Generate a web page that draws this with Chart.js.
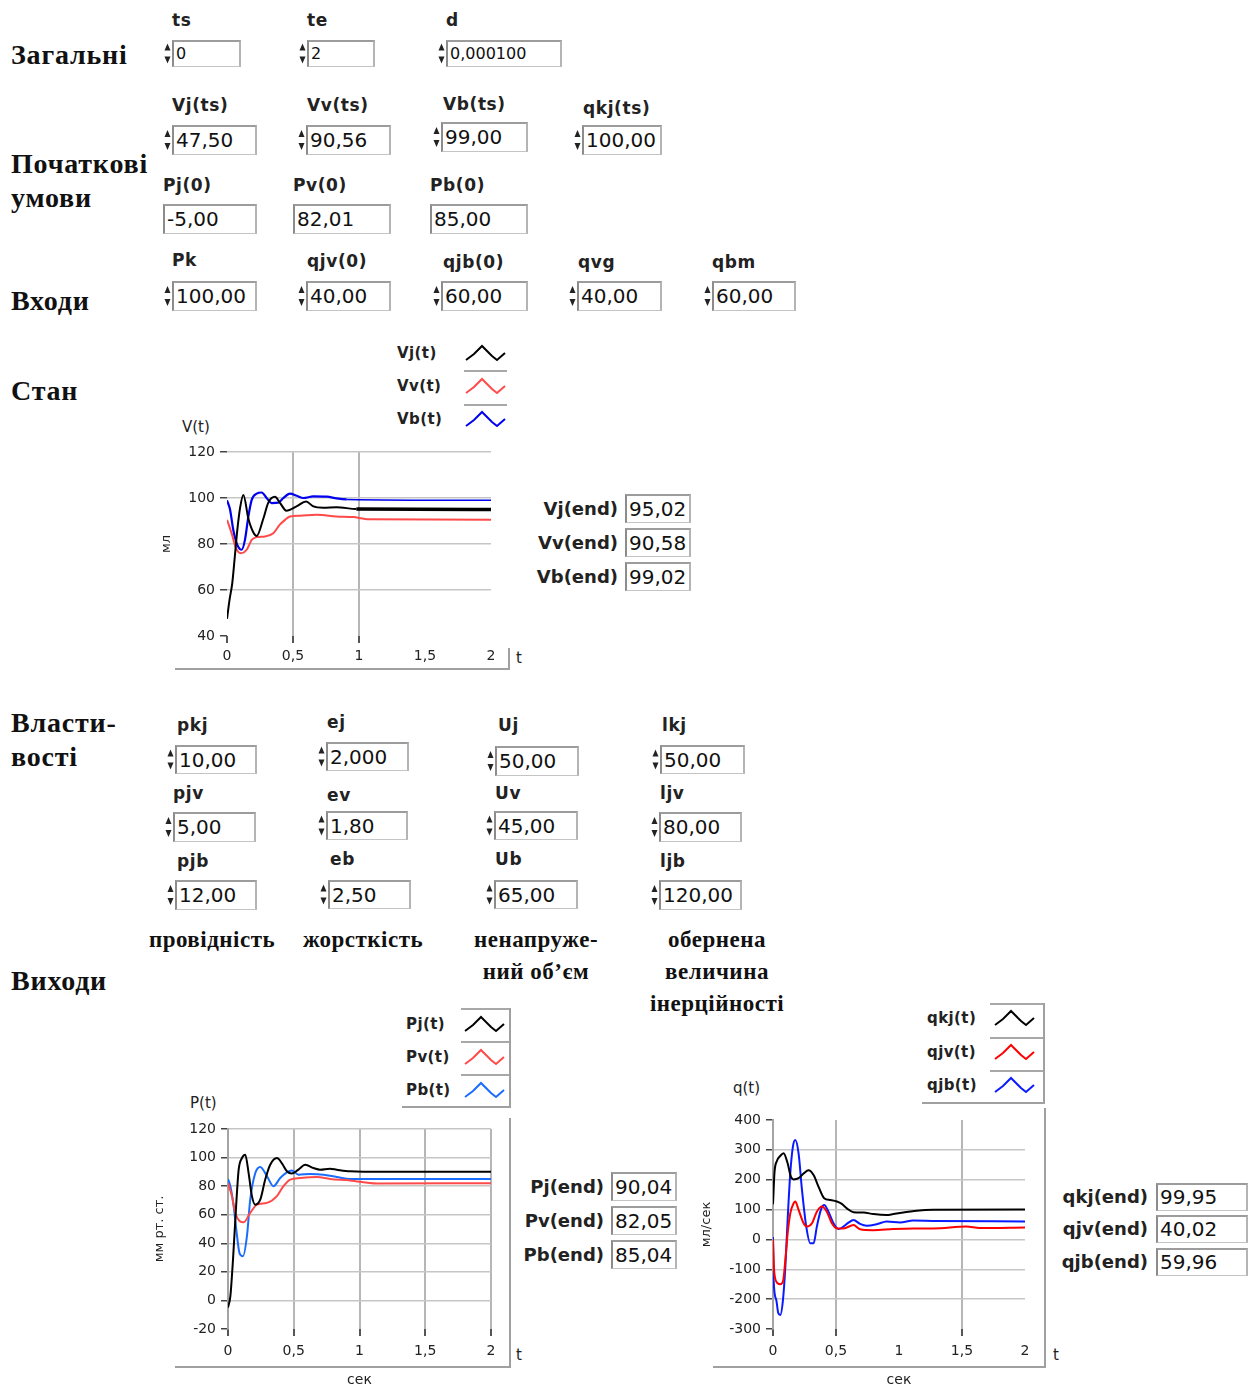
<!DOCTYPE html>
<html lang="uk">
<head>
<meta charset="utf-8">
<title>Модель кровообігу</title>
<script src="https://cdn.jsdelivr.net/npm/chart.js@4.4.1/dist/chart.umd.min.js"></script>
<style>
html,body{margin:0;padding:0;background:#fff;}
body{position:relative;width:1250px;height:1389px;overflow:hidden;}
.a{position:absolute;white-space:nowrap;}
.sec{font:bold 28px/28px "Liberation Serif","Times New Roman",serif;color:#111;letter-spacing:0.8px;}
.note{font:bold 23px/23px "Liberation Serif","Times New Roman",serif;color:#111;letter-spacing:0.5px;transform:translateX(-50%);}
.lab{font:bold 17px/20px "DejaVu Sans",sans-serif;color:#222;letter-spacing:0.6px;}
.box{position:absolute;box-sizing:border-box;background:#fff;border-top:2px solid #9c9c9c;border-left:2px solid #8c8c8c;border-right:2px solid #b4b4b4;border-bottom:1px solid #c4c4c4;font:20px "DejaVu Sans",sans-serif;color:#111;padding-left:2px;overflow:hidden;white-space:nowrap;}
.box.small{font-size:16px;}
.leg{font:bold 15px/20px "DejaVu Sans",sans-serif;color:#222;letter-spacing:0.4px;}
.ind{font:bold 18px/20px "DejaVu Sans",sans-serif;color:#222;text-align:right;width:200px;}
.cap{font:15px/18px "DejaVu Sans",sans-serif;color:#222;}
.ln{position:absolute;background:#a0a0a0;}
canvas{position:absolute;}
</style>
</head>
<body>
<script>
// ---------- V(t): volumes, мл ----------
const vjT = [0, 0.02, 0.04, 0.06, 0.078, 0.1, 0.124, 0.162, 0.2, 0.225, 0.275, 0.313, 0.364, 0.40, 0.45, 0.53, 0.60, 0.65, 0.73, 0.83, 0.98, 2];
const vjV = [47.5, 56, 63, 75, 86, 96, 101.3, 91, 85, 83.5, 91, 98, 100.5, 98, 94.5, 96.5, 98.5, 96.5, 95.8, 96, 95.2, 95.02];
const vvT = [0, 0.035, 0.068, 0.104, 0.149, 0.187, 0.225, 0.288, 0.351, 0.40, 0.44, 0.477, 0.553, 0.68, 0.83, 0.957, 1.06, 2];
const vvV = [90.56, 84.7, 78.2, 76, 77.5, 81.8, 83, 83.3, 84.7, 88.4, 90.5, 92, 92.3, 92.7, 92, 91.7, 90.8, 90.58];
const vbT = [0, 0.023, 0.048, 0.078, 0.111, 0.136, 0.162, 0.187, 0.225, 0.263, 0.30, 0.338, 0.389, 0.427, 0.477, 0.528, 0.578, 0.654, 0.755, 0.831, 0.907, 2];
const vbV = [99, 95, 86, 79.6, 77.5, 81.8, 92, 99.2, 101.9, 102.4, 100, 97.8, 98, 100, 101.9, 101, 100, 100.7, 100.6, 99.8, 99.4, 99.02];

// ---------- P(t): pressures, мм рт. ст. ----------
const pjT = [0, 0.018, 0.038, 0.063, 0.081, 0.106, 0.131, 0.157, 0.182, 0.207, 0.245, 0.283, 0.321, 0.372, 0.41, 0.448, 0.485, 0.536, 0.587, 0.65, 0.70, 0.776, 0.827, 0.928, 1.18, 2];
const pjV = [-5, 3, 28.6, 68, 91.5, 99.7, 102, 89, 73, 67, 70.5, 84.6, 95, 99.7, 96, 90.4, 88.8, 91.6, 95, 92.7, 91.5, 92.2, 91.5, 90.4, 90, 90.04];
const pvT = [0, 0.03, 0.056, 0.119, 0.169, 0.22, 0.296, 0.372, 0.422, 0.473, 0.549, 0.675, 0.776, 0.928, 1.13, 2];
const pvV = [82.01, 73, 61, 54.7, 61.3, 67, 68.3, 73, 80, 84.6, 85.7, 86.4, 85, 84, 81.8, 82.05];
const pbT = [0, 0.018, 0.043, 0.063, 0.088, 0.114, 0.144, 0.169, 0.207, 0.245, 0.296, 0.346, 0.397, 0.448, 0.485, 0.536, 0.625, 0.726, 0.827, 0.928, 2];
const pbV = [85, 80, 66, 49.6, 33, 31, 45, 70.5, 89, 93.4, 87, 80, 85.7, 89.7, 91, 88, 88.5, 88, 86.4, 85, 85.04];

// ---------- q(t): flows, мл/сек ----------
const qkjT = [0, 0.012, 0.03, 0.058, 0.084, 0.116, 0.142, 0.164, 0.203, 0.243, 0.282, 0.322, 0.361, 0.406, 0.454, 0.507, 0.546, 0.586, 0.639, 0.718, 0.797, 0.902, 0.955, 1.034, 1.14, 1.272, 2];
const qkjV = [118, 225, 262, 280, 289, 255, 210, 201, 205, 221, 232, 216, 177, 138, 132, 127, 119, 104, 91, 90, 85, 82, 85, 90, 96, 99, 99.95];
const qjvT = [0, 0.01, 0.037, 0.058, 0.079, 0.098, 0.116, 0.137, 0.164, 0.177, 0.203, 0.243, 0.269, 0.309, 0.348, 0.388, 0.427, 0.467, 0.507, 0.559, 0.639, 0.691, 0.797, 0.955, 1.113, 1.272, 1.536, 1.64, 2];
const qjvV = [0, -110, -147, -150, -141, -69, 19, 87, 121, 127, 99, 54, 43, 54, 93, 110, 93, 54, 37, 37, 48, 34, 31, 35, 37, 37, 43, 38, 40.02];
const qjbT = [0, 0.005, 0.026, 0.042, 0.058, 0.079, 0.098, 0.116, 0.137, 0.158, 0.177, 0.203, 0.23, 0.264, 0.296, 0.322, 0.348, 0.38, 0.406, 0.44, 0.48, 0.52, 0.559, 0.599, 0.639, 0.691, 0.744, 0.823, 0.902, 1.008, 1.113, 1.272, 2];
const qjbV = [8, -136, -203, -247, -253, -203, -91, 65, 221, 311, 333, 288, 166, 43, -13, -13, 43, 99, 115, 93, 54, 35, 43, 56, 65, 52, 46, 51, 60, 57, 63, 62, 59.96];

// Axis tick values
const tTicks = [0, 0.5, 1, 1.5, 2];
const vTicks = [40, 60, 80, 100, 120];
const pTicks = [-20, 0, 20, 40, 60, 80, 100, 120];
const qTicks = [-300, -200, -100, 0, 100, 200, 300, 400];

// Final values shown next to each graph
const vEnd = [['Vj(end)', vjV[vjV.length - 1]], ['Vv(end)', vvV[vvV.length - 1]], ['Vb(end)', vbV[vbV.length - 1]]];
const pEnd = [['Pj(end)', pjV[pjV.length - 1]], ['Pv(end)', pvV[pvV.length - 1]], ['Pb(end)', pbV[pbV.length - 1]]];
const qEnd = [['qkj(end)', qkjV[qkjV.length - 1]], ['qjv(end)', qjvV[qjvV.length - 1]], ['qjb(end)', qjbV[qjbV.length - 1]]];

// ---------- front panel helpers ----------
const B = document.body;
function el(tag, cls, txt) { const d = document.createElement(tag); if (cls) d.className = cls; if (txt !== undefined) d.textContent = txt; B.appendChild(d); return d; }
function at(d, x, y) { d.style.left = x + 'px'; d.style.top = y + 'px'; return d; }
function text(cls, s, x, cy, lh) { return at(el('div', 'a ' + cls, s), x, cy - lh / 2); }
function line(x, y, w, h, c) { const d = at(el('div', 'ln'), x, y); d.style.width = w + 'px'; d.style.height = h + 'px'; if (c) d.style.background = c; return d; }
function box(l, t, r, b, val, small) {
  const d = at(el('div', 'box' + (small ? ' small' : ''), val), l, t);
  d.style.width = (r - l) + 'px'; d.style.height = (b - t) + 'px'; d.style.lineHeight = (b - t - 3) + 'px';
  return d;
}
function spinner(x, y, h) {
  const d = at(el('div', 'a'), x, y);
  const m = h / 2;
  d.innerHTML = `<svg width="7" height="${h}"><polygon points="0.5,${m - 3} 3.5,${m - 10} 6.5,${m - 3}" fill="#222"/><polygon points="0.5,${m + 3} 3.5,${m + 10} 6.5,${m + 3}" fill="#222"/></svg>`;
}
const fmt2 = v => v.toFixed(2).replace('.', ',');

// section headings (top = baseline - 24)
[['Загальні', 65], ['Початкові', 174], ['умови', 208], ['Входи', 311], ['Стан', 401], ['Власти-', 733], ['вості', 767], ['Виходи', 991]]
  .forEach(([s, base]) => at(el('div', 'a sec', s), 11, base - 24));

// notes under the property columns
[['провідність', 212, 947], ['жорсткість', 363, 947], ['ненапруже-', 536, 947], ['ний об’єм', 536, 979],
 ['обернена', 717, 947], ['величина', 717, 979], ['інерційності', 717, 1011]]
  .forEach(([s, cx, base]) => at(el('div', 'a note', s), cx, base - 19));

// numeric controls: label, value, label x, label centre y, box l,t,r,b, spinner, small font
const controls = [
  ['ts', '0', 172, 20, 172, 40, 241, 67, true, true],
  ['te', '2', 307, 20, 307, 40, 375, 67, true, true],
  ['d', '0,000100', 446, 20, 446, 40, 562, 67, true, true],
  ['Vj(ts)', '47,50', 172, 105, 172, 125, 257, 155, true],
  ['Vv(ts)', '90,56', 307, 105, 306, 125, 391, 155, true],
  ['Vb(ts)', '99,00', 443, 104, 441, 122, 528, 152, true],
  ['qkj(ts)', '100,00', 583, 108, 582, 125, 662, 155, true],
  ['Pj(0)', '-5,00', 163, 185, 163, 204, 257, 234, false],
  ['Pv(0)', '82,01', 293, 185, 293, 204, 391, 234, false],
  ['Pb(0)', '85,00', 430, 185, 430, 204, 528, 234, false],
  ['Pk', '100,00', 172, 260, 172, 281, 257, 311, true],
  ['qjv(0)', '40,00', 307, 261, 306, 281, 391, 311, true],
  ['qjb(0)', '60,00', 443, 262, 441, 281, 528, 311, true],
  ['qvg', '40,00', 578, 262, 577, 281, 662, 311, true],
  ['qbm', '60,00', 712, 262, 712, 281, 796, 311, true],
  ['pkj', '10,00', 177, 725, 175, 745, 257, 774, true],
  ['ej', '2,000', 327, 722, 326, 742, 409, 771, true],
  ['Uj', '50,00', 498, 725, 495, 746, 579, 776, true],
  ['lkj', '50,00', 662, 725, 660, 745, 745, 774, true],
  ['pjv', '5,00', 173, 793, 173, 812, 256, 842, true],
  ['ev', '1,80', 327, 795, 326, 811, 408, 840, true],
  ['Uv', '45,00', 495, 793, 494, 811, 578, 840, true],
  ['ljv', '80,00', 660, 793, 659, 812, 742, 842, true],
  ['pjb', '12,00', 177, 861, 175, 880, 257, 910, true],
  ['eb', '2,50', 330, 859, 328, 880, 411, 909, true],
  ['Ub', '65,00', 495, 859, 494, 880, 578, 909, true],
  ['ljb', '120,00', 660, 861, 659, 880, 742, 910, true]
];
controls.forEach(([lab, val, lx, ly, l, t, r, b, sp, small]) => {
  text('lab', lab, lx, ly, 20);
  box(l, t, r, b, val, small);
  if (sp) spinner(l - 8, t, b - t);
});

// legends with a small zig-zag sample of each line
function legend(rows, tx, ix, cys, seps, sepL, sepR) {
  rows.forEach(([name, col], i) => {
    text('leg', name, tx, cys[i], 20);
    const d = at(el('div', 'a'), ix, cys[i] - 12);
    d.innerHTML = `<svg width="44" height="24"><polyline points="2,19 10,13 18,5 28,15 33,19 41,12" fill="none" stroke="${col}" stroke-width="2"/></svg>`;
  });
  seps.forEach(y => line(sepL, y, sepR - sepL, 2, '#a8a8a8'));
}
legend([['Vj(t)', '#000'], ['Vv(t)', '#ff4a4a'], ['Vb(t)', '#0000ee']], 397, 464, [353, 386, 419], [370, 404], 464, 507);
legend([['Pj(t)', '#000'], ['Pv(t)', '#ff4a4a'], ['Pb(t)', '#1a6cff']], 406, 463, [1024, 1057, 1090], [1008, 1041, 1074], 461, 509);
legend([['qkj(t)', '#000'], ['qjv(t)', '#ff0000'], ['qjb(t)', '#0a1aff']], 927, 993, [1018, 1052, 1085], [1003, 1037, 1070], 990, 1043);
line(509, 1008, 2, 100); line(402, 1106, 109, 1.5);
line(1043, 1003, 2, 100); line(922, 1102, 123, 1.5);

// final-value indicators
function indicators(rows, xr, bl, br, tops, h) {
  rows.forEach(([name, v], i) => {
    text('ind', name, xr - 200, tops[i] + h / 2, 20);
    box(bl, tops[i], br, tops[i] + h, fmt2(v));
  });
}
indicators(vEnd, 618, 625, 691, [494, 528, 562], 29);
indicators(pEnd, 604, 611, 677, [1172, 1206, 1240], 29);
indicators(qEnd, 1148, 1156, 1248, [1183, 1215, 1248], 28);

// graph captions and frame edges
text('cap', 'V(t)', 182, 427, 18);
text('cap', 'P(t)', 190, 1103, 18);
text('cap', 'q(t)', 733, 1088, 18);
text('cap', 't', 516, 658, 18);
text('cap', 't', 516, 1355, 18);
text('cap', 't', 1053, 1355, 18);
line(175, 668, 335, 1.5); line(508, 648, 2, 21);
line(509, 1118, 2, 250); line(175, 1366, 336, 1.5);
line(1044, 1108, 2, 260); line(713, 1366, 333, 1.5);

// ---------- graphs ----------
Chart.defaults.font.family = '"DejaVu Sans", sans-serif';
Chart.defaults.font.size = 14;
Chart.defaults.color = '#222';

const comma = v => String(v).replace('.', ',');
const has = (list, c) => c.tick !== undefined && list.includes(c.tick.value);
const none = 'rgba(0,0,0,0)';

function series(ts, vs, color, width, seg) {
  const ds = { data: ts.map((t, i) => ({ x: t, y: vs[i] })), borderColor: color, borderWidth: width,
    pointRadius: 0, fill: false, cubicInterpolationMode: 'monotone' };
  if (seg) ds.segment = { borderWidth: seg };
  return ds;
}

function graph(box, want, sets, xs, ys) {
  const cv = document.createElement('canvas');
  cv.width = box.w; cv.height = box.h;
  cv.style.left = box.x + 'px'; cv.style.top = box.y + 'px';
  cv.style.width = box.w + 'px'; cv.style.height = box.h + 'px';
  B.appendChild(cv);
  const cfg = {
    type: 'line',
    data: { datasets: sets },
    options: {
      responsive: false, animation: false, devicePixelRatio: 1,
      layout: { padding: { left: 0, top: 0, right: 0, bottom: 0 } },
      plugins: { legend: { display: false }, tooltip: { enabled: false } },
      scales: {
        x: {
          type: 'linear', min: 0, max: 2,
          afterBuildTicks: s => { s.ticks = tTicks.map(v => ({ value: v })); },
          ticks: { autoSkip: false, maxRotation: 0, padding: xs.pad, color: '#222', callback: comma },
          grid: { color: c => has(xs.grid, c) ? '#b6b6b6' : none, lineWidth: 2,
                  tickColor: c => has(xs.marks, c) ? '#555' : none, tickLength: 7 },
          border: { display: false },
          title: xs.title ? { display: true, text: xs.title, color: '#222', font: { size: 14 }, padding: 0 } : { display: false },
          afterFit: s => { if (xs.h) s.height = xs.h; }
        },
        y: {
          type: 'linear', min: ys.ticks[0], max: ys.ticks[ys.ticks.length - 1],
          afterBuildTicks: s => { s.ticks = ys.ticks.map(v => ({ value: v })); },
          ticks: { padding: 5, color: '#222' },
          grid: { color: c => has(ys.grid, c) ? '#c6c6c6' : none, lineWidth: 1.5, tickColor: '#444', tickLength: 7 },
          border: { display: ys.axis, color: '#a4a4a4', width: 2 },
          title: { display: true, text: ys.title, color: '#222', font: { size: 13 }, padding: 0 },
          afterFit: s => { s.width = ys.w; }
        }
      }
    }
  };
  const chart = new Chart(cv.getContext('2d'), cfg);
  // shift the padding until the plot area sits where the panel wants it
  const p = { left: 0, top: 0, right: 0, bottom: 0 };
  for (let i = 0; i < 4; i++) {
    const a = chart.chartArea;
    p.left += want.l - a.left; p.top += want.t - a.top;
    p.right += a.right - want.r; p.bottom += a.bottom - want.b;
    chart.config.options.layout.padding = { ...p };
    chart.update('none');
  }
  return chart;
}

graph({ x: 140, y: 430, w: 400, h: 245 }, { l: 87, t: 22, r: 351, b: 206 },
  [series(vjT, vjV, '#000000', 2, c => c.p0.parsed.x >= 0.98 ? 3.5 : 2),
   series(vvT, vvV, '#ff4a4a', 2),
   series(vbT, vbV, '#0000ee', 2, c => c.p0.parsed.x >= 0.9 ? 1.5 : 2.2)],
  { grid: [0.5, 1], marks: [0, 0.5, 1], pad: 5 },
  { ticks: vTicks, grid: [60, 80, 100, 120], axis: false, title: 'мл', w: 68 });

graph({ x: 140, y: 1108, w: 400, h: 281 }, { l: 88, t: 21, r: 351, b: 221 },
  [series(pjT, pjV, '#000000', 2),
   series(pvT, pvV, '#ff4a4a', 2),
   series(pbT, pbV, '#1a6cff', 2)],
  { grid: [0.5, 1, 1.5, 2], marks: [0, 0.5, 1, 1.5, 2], pad: 7, title: 'сек', h: 60 },
  { ticks: pTicks, grid: [0, 20, 40, 60, 80, 100, 120], axis: true, title: 'мм рт. ст.', w: 76 });

graph({ x: 690, y: 1100, w: 360, h: 289 }, { l: 83, t: 20, r: 335, b: 229 },
  [series(qkjT, qkjV, '#000000', 2),
   series(qjvT, qjvV, '#ff0000', 2),
   series(qjbT, qjbV, '#0a1aff', 2)],
  { grid: [0.5, 1.5], marks: [0, 0.5, 1.5], pad: 7, title: 'сек', h: 60 },
  { ticks: qTicks, grid: [-200, -100, 0, 100, 200, 300], axis: true, title: 'мл/сек', w: 74 });
</script>
</body>
</html>
